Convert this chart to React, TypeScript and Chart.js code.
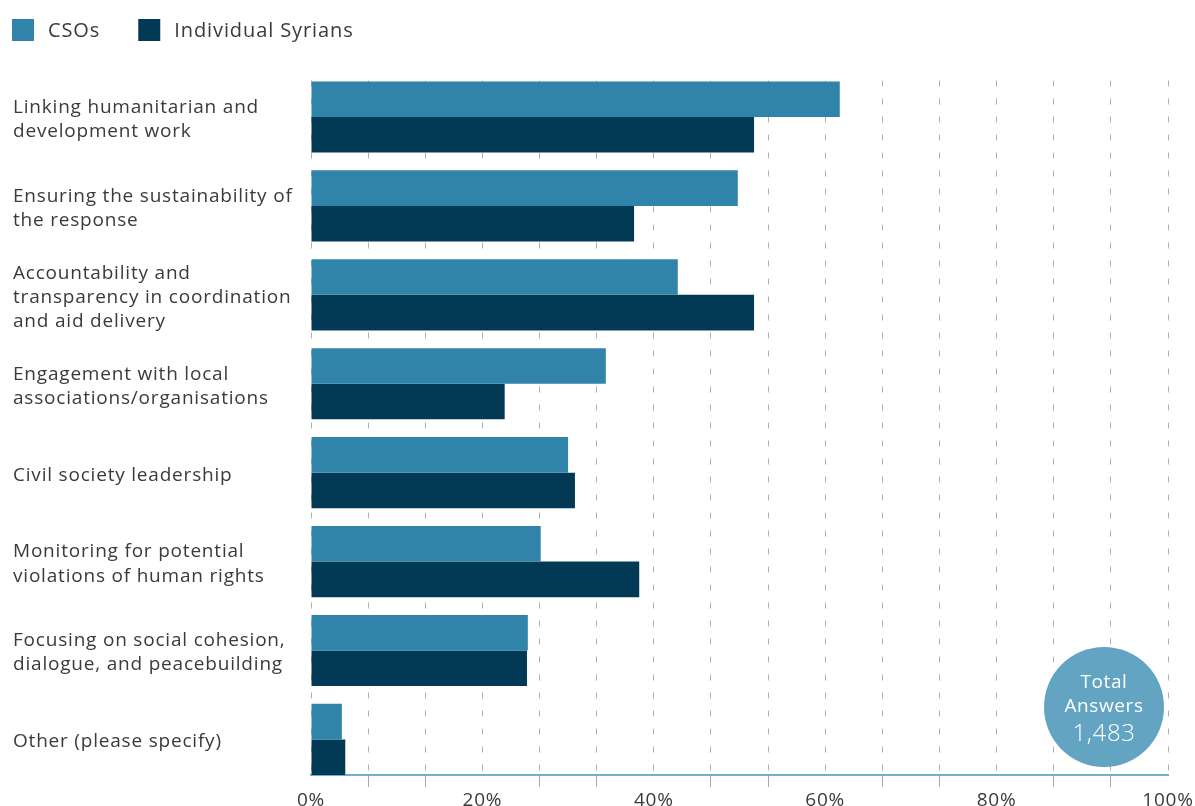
import React, { useEffect, useRef } from "react";
import { Chart, registerables } from "chart.js";

Chart.register(...registerables);

const categories: string[][] = [
  ["Linking humanitarian and", "development work"],
  ["Ensuring the sustainability of", "the response"],
  ["Accountability and", "transparency in coordination", "and aid delivery"],
  ["Engagement with local", "associations/organisations"],
  ["Civil society leadership"],
  ["Monitoring for potential", "violations of human rights"],
  ["Focusing on social cohesion,", "dialogue, and peacebuilding"],
  ["Other (please specify)"],
];
const csoValues = [61.7, 49.8, 42.8, 34.4, 30.0, 26.8, 25.3, 3.6];
const individualValues = [51.7, 37.7, 51.7, 22.6, 30.8, 38.3, 25.2, 4.0];
const seriesNames = ["CSOs", "Individual Syrians"];
const seriesColors = ["#3084aa", "#023955"];
const xTickLabels = ["0%", "20%", "40%", "60%", "80%", "100%"];
const totalTitle = ["Total", "Answers"];
const totalAnswers = "1,483";

const FONT = "'Open Sans', sans-serif";
const TEXT = "#3a3a3a";

const spacingPlugin = {
  id: "letterSpacing",
  beforeDraw(chart: any) {
    chart.ctx.letterSpacing = "0.8px";
  },
  afterDraw(chart: any) {
    chart.ctx.letterSpacing = "0px";
  },
};

const legendPlugin = {
  id: "topLegend",
  afterDraw(chart: any) {
    const ctx = chart.ctx;
    ctx.save();
    ctx.letterSpacing = "0.9px";
    let x = 12;
    const y = 19;
    chart.data.datasets.forEach((ds: any) => {
      ctx.fillStyle = ds.backgroundColor;
      ctx.fillRect(x, y, 22, 22);
      ctx.fillStyle = TEXT;
      ctx.font = `20px ${FONT}`;
      ctx.textBaseline = "middle";
      ctx.textAlign = "left";
      ctx.fillText(ds.label, x + 36, y + 12);
      const w = ctx.measureText(ds.label).width;
      x += 36 + w + 38;
    });
    ctx.restore();
  },
};

const totalPlugin = {
  id: "totalBadge",
  afterDraw(chart: any) {
    const { ctx, chartArea } = chart;
    const cx = chartArea.right - 64;
    const cy = chartArea.bottom - 68;
    ctx.save();
    ctx.letterSpacing = "0.6px";
    ctx.beginPath();
    ctx.arc(cx, cy, 60, 0, Math.PI * 2);
    ctx.fillStyle = "#63a4c2";
    ctx.fill();
    ctx.fillStyle = "#ffffff";
    ctx.textAlign = "center";
    ctx.textBaseline = "middle";
    ctx.font = `19px ${FONT}`;
    ctx.fillText(totalTitle[0], cx, cy - 24);
    ctx.fillText(totalTitle[1], cx, cy);
    ctx.font = `300 24px ${FONT}`;
    ctx.fillText(totalAnswers, cx, cy + 27);
    ctx.restore();
  },
};

export default function App() {
  const ref = useRef<HTMLCanvasElement | null>(null);

  useEffect(() => {
    if (!ref.current) return;
    const chart = new Chart(ref.current, {
      type: "bar",
      data: {
        labels: categories,
        datasets: [
          {
            label: seriesNames[0],
            data: csoValues,
            backgroundColor: seriesColors[0],
            categoryPercentage: 0.8,
            barPercentage: 1,
          },
          {
            label: seriesNames[1],
            data: individualValues,
            backgroundColor: seriesColors[1],
            categoryPercentage: 0.8,
            barPercentage: 1,
          },
        ],
      },
      options: {
        indexAxis: "y",
        animation: false,
        responsive: false,
        maintainAspectRatio: false,
        layout: { padding: { top: 72.5, left: 13, right: 27, bottom: 0 } },
        plugins: {
          legend: { display: false },
          tooltip: { enabled: false },
        },
        scales: {
          x: {
            min: 0,
            max: 100,
            afterFit: (s: any) => {
              s.height = 31;
            },
            ticks: {
              stepSize: 100 / 15,
              autoSkip: false,
              maxRotation: 0,
              padding: 2,
              color: TEXT,
              font: { family: FONT, size: 19 },
              callback: (_v: any, i: number) =>
                i % 3 === 0 ? xTickLabels[i / 3] : "",
            },
            grid: {
              color: "#b0b0b0",
              lineWidth: 1,
              tickLength: 12,
              tickColor: (c: any) =>
                c.index % 3 === 0 ? "rgba(0,0,0,0)" : "#a8a8a8",
              tickBorderDash: [],
            },
            border: {
              display: true,
              color: "#72afca",
              width: 2,
              dash: [6, 12],
              dashOffset: -8,
            },
          },
          y: {
            afterFit: (s: any) => {
              s.width = 298;
            },
            afterBuildTicks: (s: any) => {
              s._valueRange = 7.9;
            },
            grid: { display: false },
            border: { display: false },
            ticks: {
              crossAlign: "far",
              padding: 0,
              labelOffset: 2.5,
              color: TEXT,
              autoSkip: false,
              font: { family: FONT, size: 19, lineHeight: 1.27 },
            },
          },
        },
      },
      plugins: [spacingPlugin, legendPlugin, totalPlugin],
    } as any);
    return () => chart.destroy();
  }, []);

  return (
    <div
      style={{
        position: "absolute",
        left: 0,
        top: 0,
        width: 1195,
        height: 806,
        background: "#fff",
      }}
    >
      <canvas ref={ref} width={1195} height={806} style={{ display: "block" }} />
    </div>
  );
}
